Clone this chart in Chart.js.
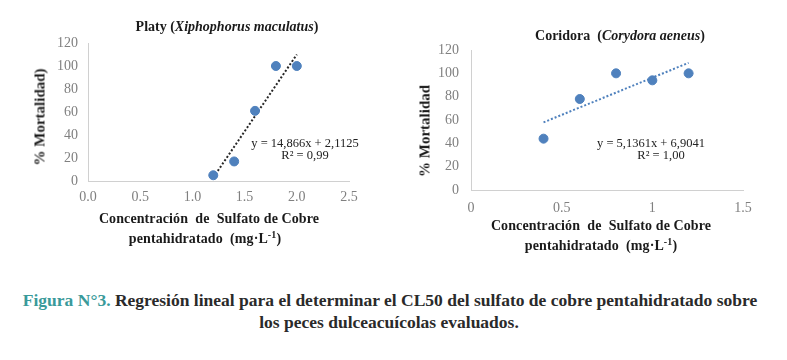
<!DOCTYPE html>
<html>
<head>
<meta charset="utf-8">
<script src="https://cdn.jsdelivr.net/npm/chart.js@4.4.1/dist/chart.umd.min.js"></script>
<style>
  html, body { margin: 0; padding: 0; background: #fff; }
  body { width: 787px; height: 360px; position: relative; overflow: hidden; font-family: "Liberation Serif", serif; }
  canvas { position: absolute; top: 0; }
  .txt { position: absolute; white-space: pre; transform: translate(-50%, -50%); color: #1a1a1a; }
  .ttl { font-weight: bold; font-size: 14px; }
  .ax { font-weight: bold; font-size: 14px; letter-spacing: 0.1px; }
  .ylab { font-weight: bold; font-size: 15px; letter-spacing: 0; transform: translate(-50%, -50%) rotate(-90deg); }
  .eq { font-size: 12.5px; color: #222; }
  .cap { font-weight: bold; font-size: 17.5px; color: #2a2a2a; }
  .cap b { color: #3a9a9a; }
</style>
</head>
<body>
<canvas id="platy" width="400" height="260" style="left:0"></canvas>
<canvas id="coridora" width="387" height="260" style="left:400px"></canvas>

<div class="txt ttl" style="left:227px; top:27px">Platy (<i>Xiphophorus maculatus</i>)</div>
<div class="txt ttl" style="left:620px; top:36px">Coridora  (<i>Corydora aeneus</i>)</div>

<div class="txt ylab" style="left:40px; top:117px">% Mortalidad)</div>
<div class="txt ylab" style="left:425px; top:131px">% Mortalidad</div>

<div class="txt ax" style="left:209px; top:219px">Concentración  de  Sulfato de Cobre</div>
<div class="txt ax" style="left:205px; top:238px">pentahidratado  (mg·L<sup style="font-size:10px">-1</sup>)</div>
<div class="txt ax" style="left:601px; top:226px">Concentración  de  Sulfato de Cobre</div>
<div class="txt ax" style="left:601px; top:245px">pentahidratado  (mg·L<sup style="font-size:10px">-1</sup>)</div>

<div class="txt eq" style="left:305px; top:143px">y = 14,866x + 2,1125</div>
<div class="txt eq" style="left:305px; top:155px">R² = 0,99</div>
<div class="txt eq" style="left:651px; top:143px">y = 5,1361x + 6,9041</div>
<div class="txt eq" style="left:661px; top:155px">R² = 1,00</div>

<div class="txt cap" style="left:390px; top:300px"><b>Figura N°3.</b> Regresión lineal para el determinar el CL50 del sulfato de cobre pentahidratado sobre</div>
<div class="txt cap" style="left:389px; top:322px">los peces dulceacuícolas evaluados.</div>

<script>
// Platy (Xiphophorus maculatus)
const platyX = [1.2, 1.4, 1.6, 1.8, 2.0];
const platyY = [5, 17, 61, 100, 100];
const platyTrendX = [1.2, 2.0];
const platyTrendY = [3, 110];

// Coridora (Corydora aeneus)
const corX = [0.4, 0.6, 0.8, 1.0, 1.2];
const corY = [44, 78, 100, 94, 100];
const corTrendX = [0.4, 1.2];
const corTrendY = [58, 109];

const yTicks = [0, 20, 40, 60, 80, 100, 120];

const pts = (xs, ys) => xs.map((x, i) => ({ x: x, y: ys[i] }));

function makeChart(id, opt) {
    const ctx = document.getElementById(id).getContext('2d');
    return new Chart(ctx, {
        type: 'scatter',
        data: {
            datasets: [
                {
                    data: pts(opt.x, opt.y),
                    backgroundColor: '#4f81bd',
                    borderColor: '#4f81bd',
                    pointRadius: 4.5,
                    order: 1,
                },
                {
                    data: pts(opt.tx, opt.ty),
                    showLine: true,
                    borderColor: opt.trendColor,
                    borderWidth: 2,
                    borderDash: [2, 2],
                    pointRadius: 0,
                    order: 2,
                },
            ],
        },
        options: {
            responsive: false,
            animation: false,
            layout: { padding: { top: opt.top, right: opt.right, left: 0, bottom: 0 } },
            plugins: { legend: { display: false }, tooltip: { enabled: false } },
            scales: {
                x: {
                    type: 'linear',
                    min: 0,
                    max: opt.xMax,
                    afterBuildTicks: (s) => { s.ticks = opt.xTicks.map(v => ({ value: v })); },
                    afterFit: (s) => { s.height = opt.xH; },
                    grid: { display: false, drawTicks: false },
                    border: { display: true, color: '#d0d0d0', width: 1 },
                    ticks: {
                        color: '#808080',
                        font: { family: 'Liberation Serif', size: 14 },
                        padding: opt.xPad,
                        callback: opt.xFmt,
                    },
                },
                y: {
                    min: 0,
                    max: 120,
                    afterBuildTicks: (s) => { s.ticks = yTicks.map(v => ({ value: v })); },
                    afterFit: (s) => { s.width = opt.yW; },
                    grid: { display: false, drawTicks: false },
                    border: { display: true, color: '#d0d0d0', width: 1 },
                    ticks: {
                        color: '#808080',
                        font: { family: 'Liberation Serif', size: 14 },
                        padding: opt.yPad,
                    },
                },
            },
        },
    });
}

makeChart('platy', {
    x: platyX, y: platyY, tx: platyTrendX, ty: platyTrendY,
    trendColor: '#262626',
    xMax: 2.5, xTicks: [0, 0.5, 1, 1.5, 2, 2.5], xFmt: (v) => v.toFixed(1),
    top: 43, right: 51, xH: 79, yW: 88, xPad: 8, yPad: 10,
});

makeChart('coridora', {
    x: corX, y: corY, tx: corTrendX, ty: corTrendY,
    trendColor: '#4f81bd',
    xMax: 1.5, xTicks: [0, 0.5, 1, 1.5], xFmt: (v) => String(v),
    top: 50, right: 44, xH: 70, yW: 71, xPad: 10, yPad: 12,
});
</script>
</body>
</html>
